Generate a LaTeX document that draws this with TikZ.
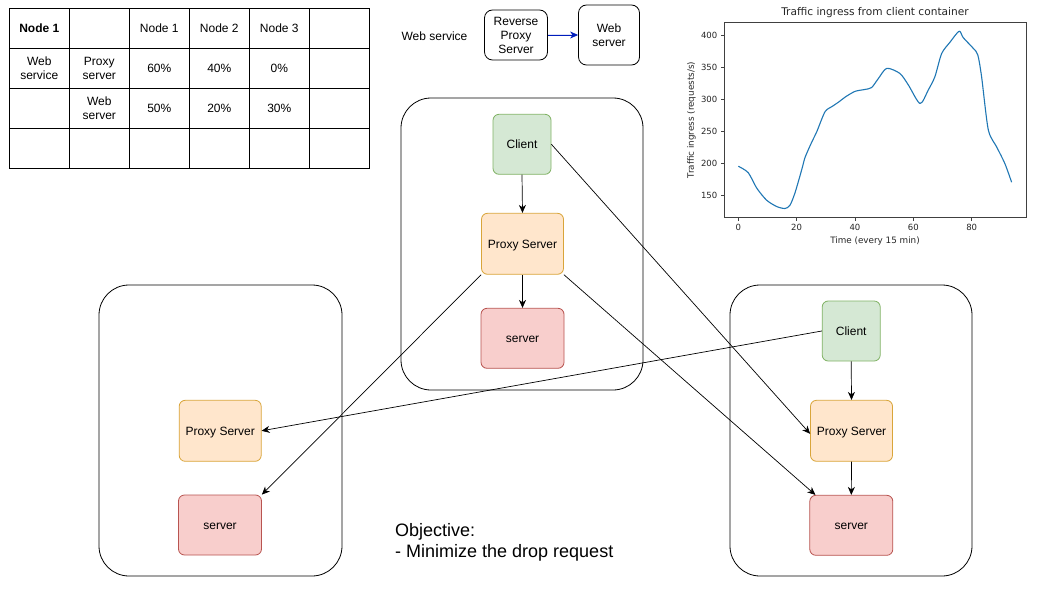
\documentclass[tikz,border=0pt]{standalone}
\usepackage{fontspec}
\setmainfont{Liberation Sans}
\newfontfamily\mplfont{DejaVu Sans}
\usetikzlibrary{arrows.meta}
\definecolor{gfill}{HTML}{D5E8D4}
\definecolor{gline}{HTML}{82B366}
\definecolor{ofill}{HTML}{FFE6CC}
\definecolor{oline}{HTML}{D9A53A}
\definecolor{rfill}{HTML}{F8CECC}
\definecolor{rline}{HTML}{B85450}
\definecolor{bluearr}{HTML}{001DBC}
\definecolor{mplblue}{HTML}{1F77B4}
\begin{document}
\begin{tikzpicture}[x=1pt,y=-1pt,
  box/.style={draw, rounded corners=6, line width=0.8, font=\fontsize{12}{14}\selectfont, align=center, inner sep=0},
  oneline/.style={text height=10, text depth=1.1},
  client/.style={box, oneline, fill=gfill, draw=gline, minimum width=58, minimum height=60},
  proxy/.style={box, oneline, fill=ofill, draw=oline, minimum width=82, minimum height=61},
  srv/.style={box, oneline, fill=rfill, draw=rline, minimum width=83, minimum height=60},
  container/.style={draw, rounded corners=30, line width=0.8, inner sep=0},
  plainbox/.style={box, fill=white, draw=black, rounded corners=8},
  arr/.style={-{Stealth[length=8,width=7,inset=2.5]}, line width=0.7},
  cell/.style={draw, line width=0.8, minimum width=60, minimum height=40, inner sep=0, align=center, font=\fontsize{12}{14}\selectfont},
  tick/.style={font=\mplfont\fontsize{8.5}{10}\selectfont, text=black!85, inner sep=0},
  lab/.style={font=\mplfont\fontsize{8.8}{10}\selectfont, text=black!85, inner sep=0}
]
\useasboundingbox (0,0) rectangle (1041,591);
\fill[white] (0,0) rectangle (1041,591);

% ---------- table ----------
\foreach \r/\a/\b/\c/\d/\e in {0/{\textbf{Node 1}}/{}/{Node 1}/{Node 2}/{Node 3},
                             1/{Web\\service}/{Proxy\\server}/{60\%}/{40\%}/{0\%},
                             2/{}/{Web\\server}/{50\%}/{20\%}/{30\%},
                             3/{}/{}/{}/{}/{}}{
  \node[cell] (t\r a) at (39.3,28.3+40*\r) {\a};
  \node[cell] (t\r b) at (99.3,28.3+40*\r) {\b};
  \node[cell] (t\r c) at (159.3,28.3+40*\r) {\c};
  \node[cell] (t\r d) at (219.3,28.3+40*\r) {\d};
  \node[cell] (t\r e) at (279.3,28.3+40*\r) {\e};
  \node[cell] (t\r f) at (339.3,28.3+40*\r) {};
}

% ---------- web service legend ----------
\node[font=\fontsize{12}{14}\selectfont, inner sep=0] (wsl) at (434.5,36) {Web service};
\node[plainbox, minimum width=63, minimum height=50] (rps) at (516,35) {Reverse\\Proxy\\Server};
\node[plainbox, minimum width=61, minimum height=60] (ws) at (609,35) {Web\\server};
\draw[arr, draw=bluearr, fill=bluearr] (rps.east) -- (ws.west);

% ---------- containers ----------
\node[container, minimum width=242, minimum height=292] (cm) at (522,244) {};
\node[container, minimum width=243, minimum height=291] (cl) at (220.5,430.5) {};
\node[container, minimum width=242, minimum height=291] (cr) at (851,430.5) {};

% ---------- nodes ----------
\node[client] (mc) at (522,144.3) {Client};
\node[proxy] (mp) at (522.5,243.8) {Proxy Server};
\node[srv] (ms) at (522.5,338.3) {server};

\node[proxy] (lp) at (220.2,430.8) {Proxy Server};
\node[srv] (ls) at (220,525) {server};

\node[client] (rc) at (851.2,331) {Client};
\node[proxy] (rp) at (851.5,430.8) {Proxy Server};
\node[srv] (rs) at (851.3,525.3) {server};

% ---------- connectors ----------
\draw[arr] (mc.south) -- (mp.north);
\draw[arr] (mp.south) -- (ms.north);
\draw[arr] (rc.south) -- (rp.north);
\draw[arr] (rp.south) -- (rs.north);
\draw[arr] (mc.east) -- ([yshift=-3]rp.west);
\draw[arr] (mp.south west) -- (ls.north east);
\draw[arr] (mp.south east) -- ([xshift=6]rs.north west);
\draw[arr] (rc.west) -- (lp.east);

% ---------- objective ----------
\node[anchor=north west, inner sep=0, align=left, font=\fontsize{18}{21.6}\selectfont] (obj) at (395,523) {Objective:\\- Minimize the drop request};

% ---------- chart ----------
\draw[line width=0.8, draw=black!75] (724,22.3) rectangle (1026,217.3);
\foreach \v in {0,20,40,60,80}{
  \draw[line width=0.8, draw=black!75] (738.3+2.917*\v,217.3) -- (738.3+2.917*\v,220.8);
  \node[tick, anchor=north] (xt\v) at (738.3+2.917*\v,223.5) {\v};
}
\foreach \v in {150,200,250,300,350,400}{
  \draw[line width=0.8, draw=black!75] (724,35.7+0.64*400-0.64*\v) -- (720.5,35.7+0.64*400-0.64*\v);
  \node[tick, anchor=east] (yt\v) at (717.5,35.7+0.64*400-0.64*\v) {\v};
}
\node[lab] (xl) at (875,241.5) {Time (every 15 min)};
\node[lab, rotate=90] (yl) at (691.5,120) {Traffic ingress (requests/s)};
\node[font=\mplfont\fontsize{10.6}{12}\selectfont, text=black!85, inner sep=0] (ttl) at (875,13) {Traffic ingress from client container};
\begin{scope}[shift={(738.3pt,-291.7pt)}, x={(2.917pt,0)}, y={(0,0.64pt)}]
\draw[mplblue, line width=1.1, line join=round] plot[smooth, tension=0.45] coordinates {
(0,196) (3.4,186) (6.3,162) (9.7,143) (13.2,133) (16,130) (17.7,135) (19.4,154) (21.7,190) (22.9,210) (25.2,234) (26.9,250) (29.7,281) (32,289) (34.3,296) (36.6,304) (40,313) (43.4,316) (45.7,319) (48,333) (50.9,349) (55.4,341) (58.3,323) (62.3,294) (65.1,315) (67.4,336) (69.7,372) (72.6,390) (75.7,407) (77.1,397) (80.6,380) (82.1,370) (83.4,336) (85.7,253) (88.6,226) (91.4,200) (93.7,171)};
\end{scope}
\end{tikzpicture}
\end{document}
